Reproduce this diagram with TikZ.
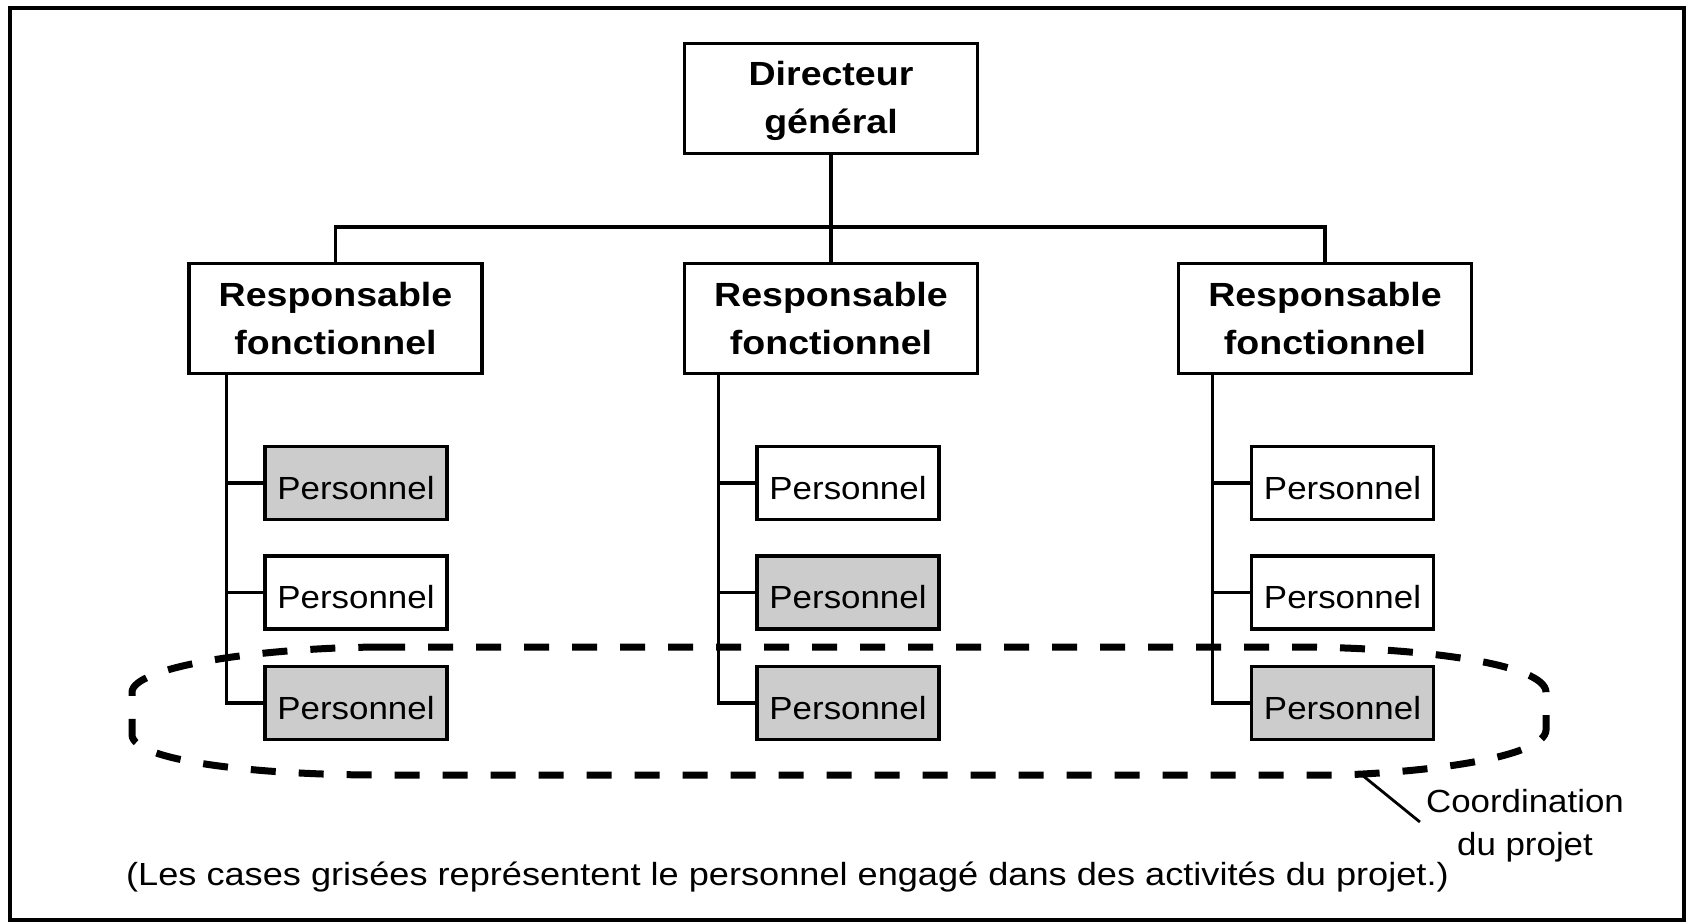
\documentclass[tikz,border=0pt]{standalone}
\usepackage{fontspec}
\setmainfont{Liberation Sans}
\newfontfamily\regf{Liberation Sans}[FakeStretch=1.09]
\newfontfamily\capf{Liberation Sans}[FakeStretch=1.13]
\newfontfamily\hdf{Liberation Sans}[FakeStretch=1.12]
% two centred lines, baseline on the first one
\newcommand\twolines[2]{\vtop{\halign{\hfil##\hfil\cr#1\cr#2\cr}}}
\definecolor{shade}{RGB}{204,204,204}
\begin{document}
\begin{tikzpicture}[x=1pt,y=-1pt,
  box/.style={draw, line width=3.6pt, inner sep=0pt},
  head/.style={box, minimum width=293pt, minimum height=110pt,
    font=\hdf\bfseries\fontsize{33.5}{48}\selectfont,
    text height=23pt, text depth=48pt},
  staff/.style={box, minimum width=182pt, minimum height=73pt,
    font=\regf\fontsize{32}{38}\selectfont,
    text height=32pt, text depth=0pt},
  busy/.style={staff, fill=shade},
  link/.style={line width=3.4pt, line join=miter},
  group/.style={line width=7pt, dash pattern=on 25pt off 23pt},
]
\useasboundingbox (0,0) rectangle (1688,923);
\draw[line width=4.5pt] (10,8) rectangle (1684,920);

% hierarchy
\node[head] (dg) at (831,98.5) {\twolines{Directeur}{général}};
\node[head] (r1) at (335.5,318.5) {\twolines{Responsable}{fonctionnel}};
\node[head] (r2) at (831,318.5) {\twolines{Responsable}{fonctionnel}};
\node[head] (r3) at (1325,318.5) {\twolines{Responsable}{fonctionnel}};

\node[busy]  (p11) at (356,483)   {Personnel};
\node[staff] (p12) at (356,592.5) {Personnel};
\node[busy]  (p13) at (356,703)   {Personnel};

\node[staff] (p21) at (848,483)   {Personnel};
\node[busy]  (p22) at (848,592.5) {Personnel};
\node[busy]  (p23) at (848,703)   {Personnel};

\node[staff] (p31) at (1342.5,483)   {Personnel};
\node[staff] (p32) at (1342.5,592.5) {Personnel};
\node[busy]  (p33) at (1342.5,703)   {Personnel};

% connectors
\coordinate (bus) at (831,227);
\draw[link] (dg.south) -- (r2.north);
\draw[link] (r1.north) |- (bus) -| (r3.north);
\foreach \c in {1,2,3} {
  \coordinate (t\c) at ([xshift=-37pt]p\c1.west);
  \draw[link] (r\c.south -| t\c) |- (p\c3.west);
  \draw[link] (t\c |- p\c1.west) -- (p\c1.west);
  \draw[link] (t\c |- p\c2.west) -- (p\c2.west);
}

% project coordination loop
\draw[group] (380,647) -- (1300,647)
  .. controls (1430,648) and (1545,665) .. (1546,692) -- (1546,730)
  .. controls (1545,757) and (1430,772) .. (1340,775) -- (380,775)
  .. controls (250,775) and (133,760) .. (132,735) -- (132,692)
  .. controls (133,668) and (250,648) .. (380,647) -- cycle;

\coordinate (cp) at (1362,775);
\node[anchor=base, inner sep=6pt, font=\regf\fontsize{32}{43}\selectfont,
  text height=23pt, text depth=43pt] (lbl) at (1525,812)
  {\twolines{Coordination}{du projet}};
\draw[line width=2.8pt] (cp) -- (lbl.west);

\node[anchor=base west, inner sep=0pt, font=\capf\fontsize{32}{38}\selectfont]
  (note) at (126,885)
  {(Les cases grisées représentent le personnel engagé dans des activités du projet.)};
\end{tikzpicture}
\end{document}
